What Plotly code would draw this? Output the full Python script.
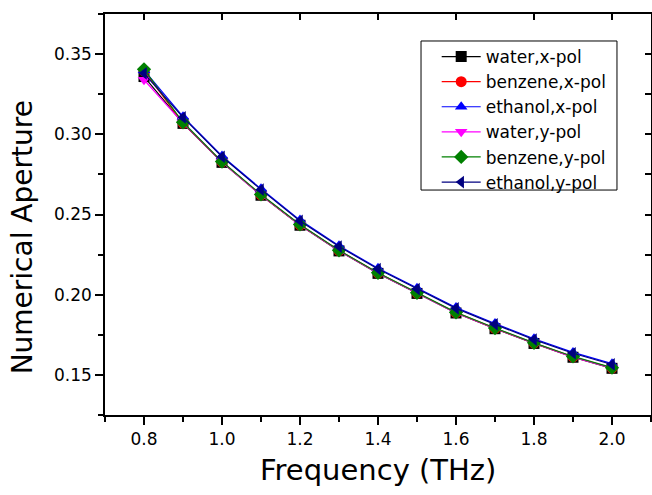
import plotly.graph_objects as go

freq = [0.8, 0.9, 1.0, 1.1, 1.2, 1.3, 1.4, 1.5, 1.6, 1.7, 1.8, 1.9, 2.0]

water_x = [0.336, 0.3068, 0.2825, 0.2620, 0.2433, 0.2273, 0.2133, 0.2008, 0.1886, 0.1788, 0.1696, 0.1610, 0.1541]
benzene_x = [0.3395, 0.3070, 0.2828, 0.2622, 0.2435, 0.2275, 0.2135, 0.2010, 0.1888, 0.1790, 0.1698, 0.1612, 0.1543]
ethanol_x = [0.3400, 0.3110, 0.2865, 0.2660, 0.2465, 0.2305, 0.2165, 0.2040, 0.1920, 0.1820, 0.1725, 0.1640, 0.1570]
water_y = [0.334, 0.3070, 0.2827, 0.2621, 0.2434, 0.2274, 0.2134, 0.2009, 0.1887, 0.1789, 0.1697, 0.1611, 0.1542]
benzene_y = [0.3405, 0.3075, 0.2830, 0.2625, 0.2438, 0.2277, 0.2137, 0.2012, 0.1890, 0.1792, 0.1700, 0.1615, 0.1545]
ethanol_y = [0.3380, 0.3105, 0.2860, 0.2655, 0.2460, 0.2300, 0.2160, 0.2035, 0.1915, 0.1815, 0.1720, 0.1635, 0.1565]

x_ticks = [0.8, 1.0, 1.2, 1.4, 1.6, 1.8, 2.0]
x_tick_text = ["0.8", "1.0", "1.2", "1.4", "1.6", "1.8", "2.0"]
x_minor = [0.7, 0.9, 1.1, 1.3, 1.5, 1.7, 1.9, 2.1]
y_ticks = [0.15, 0.20, 0.25, 0.30, 0.35]
y_tick_text = ["0.15", "0.20", "0.25", "0.30", "0.35"]
y_minor = [0.125, 0.175, 0.225, 0.275, 0.325, 0.375]

series = [
    ("water,x-pol", water_x, "black", "square"),
    ("benzene,x-pol", benzene_x, "red", "circle"),
    ("ethanol,x-pol", ethanol_x, "blue", "triangle-up"),
    ("water,y-pol", water_y, "magenta", "triangle-down"),
    ("benzene,y-pol", benzene_y, "green", "diamond"),
    ("ethanol,y-pol", ethanol_y, "#000080", "triangle-left"),
]

FONT = "DejaVu Sans, sans-serif"

fig = go.Figure()
for name, ys, color, sym in series:
    fig.add_trace(go.Scatter(
        x=freq, y=ys, name=name, mode="lines+markers",
        line=dict(color=color, width=1.2),
        marker=dict(color=color, symbol=sym, size=11, line=dict(width=0)),
    ))

xr = [0.7, 2.1]
yr = [0.125, 0.375]

fig.update_layout(
    width=652, height=495,
    margin=dict(l=105, r=1, t=14, b=80),
    paper_bgcolor="white", plot_bgcolor="white",
    font=dict(family=FONT, color="black"),
    legend=dict(
        x=0.6075, y=0.9377, xanchor="left", yanchor="top",
        borderwidth=0, bgcolor="rgba(0,0,0,0)",
        font=dict(family=FONT, size=17, color="black"),
        itemwidth=39,
    ),
    shapes=[
        dict(type="rect", xref="paper", yref="paper",
             x0=0.5788, x1=0.9377, y0=0.561, y1=0.9327,
             line=dict(color="black", width=1), fillcolor="white", layer="below"),
    ],
    xaxis=dict(
        range=xr, showgrid=False, zeroline=False,
        showline=True, linecolor="black", linewidth=1.5,
        ticks="outside", ticklen=8, tickwidth=1.5, tickcolor="black",
        tickmode="array", tickvals=x_ticks, ticktext=x_tick_text,
        minor=dict(tickvals=x_minor, ticks="outside", ticklen=5, tickwidth=1.5, tickcolor="black"),
        tickfont=dict(size=17),
    ),
    yaxis=dict(
        range=yr, showgrid=False, zeroline=False,
        showline=True, linecolor="black", linewidth=1.5,
        ticks="outside", ticklen=8, tickwidth=1.5, tickcolor="black",
        tickmode="array", tickvals=y_ticks, ticktext=y_tick_text,
        minor=dict(tickvals=y_minor, ticks="outside", ticklen=5, tickwidth=1.5, tickcolor="black"),
        tickfont=dict(size=17),
    ),
    xaxis2=dict(
        range=xr, overlaying="x", side="top", anchor="y",
        showgrid=False, zeroline=False, showticklabels=False,
        showline=True, linecolor="black", linewidth=1.5,
        ticks="inside", ticklen=6, tickwidth=1.5, tickcolor="black",
        tickmode="array", tickvals=x_ticks,
    ),
    yaxis2=dict(
        range=yr, overlaying="y", side="right", anchor="x",
        showgrid=False, zeroline=False, showticklabels=False,
        showline=True, linecolor="black", linewidth=1.5,
        ticks="inside", ticklen=6, tickwidth=1.5, tickcolor="black",
        tickmode="array", tickvals=y_ticks,
        minor=dict(tickvals=y_minor, ticks="inside", ticklen=6, tickwidth=1.5, tickcolor="black"),
    ),
    annotations=[
        dict(text="Frequency (THz)", xref="paper", yref="paper",
             x=0.5, y=-0.138, xanchor="center", yanchor="middle",
             showarrow=False, font=dict(family=FONT, size=29, color="black")),
        dict(text="Numerical Aperture", xref="paper", yref="paper",
             x=-0.152, y=0.443, xanchor="center", yanchor="middle", textangle=-90,
             showarrow=False, font=dict(family=FONT, size=28, color="black")),
    ],
)

fig.add_trace(go.Scatter(x=[None], y=[None], xaxis="x2", yaxis="y2", showlegend=False, hoverinfo="skip"))

fig.write_html("out.html")
